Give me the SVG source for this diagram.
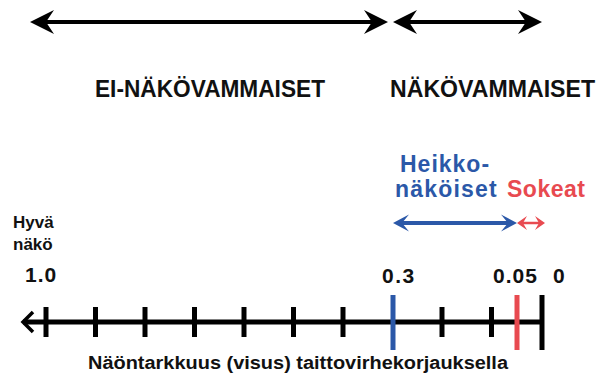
<svg xmlns="http://www.w3.org/2000/svg" width="604" height="379" viewBox="0 0 604 379">
  <style>
    .lbl { font-family: "Liberation Sans", Arial, sans-serif; font-weight: bold; fill: #111; }
    .big { font-size: 23px; }
    .num { font-size: 21px; }
    .small { font-size: 17px; }
    .blue { fill: #2b58a8; }
    .red { fill: #e84a50; }
    .tick { stroke: #000; stroke-width: 5; }
  </style>
  <defs>
    <!-- barbed arrowheads; the shaft ends at the notch (0,0) -->
    <marker id="headBlack" markerUnits="userSpaceOnUse" markerWidth="30" markerHeight="30" viewBox="-10 -14 30 28" refX="0" refY="0" orient="auto-start-reverse">
      <path d="M16,0 L-8,-12 L0,0 L-8,12 Z" fill="#000"/>
    </marker>
    <marker id="headBlue" markerUnits="userSpaceOnUse" markerWidth="22" markerHeight="22" viewBox="-9 -11 22 22" refX="0" refY="0" orient="auto-start-reverse">
      <path d="M9,0 L-7,-8.5 L0,0 L-7,8.5 Z" fill="#2b58a8"/>
    </marker>
    <marker id="headRed" markerUnits="userSpaceOnUse" markerWidth="16" markerHeight="16" viewBox="-7 -8 16 16" refX="0" refY="0" orient="auto-start-reverse">
      <path d="M6,0 L-4,-7 L0,0 L-4,7 Z" fill="#e84a50"/>
    </marker>
  </defs>

  <!-- range arrows -->
  <g id="connectors" fill="none">
    <line x1="46" y1="22" x2="372" y2="22" stroke="#000" stroke-width="4" marker-start="url(#headBlack)" marker-end="url(#headBlack)"/>
    <line x1="409" y1="22" x2="526" y2="22" stroke="#000" stroke-width="4" marker-start="url(#headBlack)" marker-end="url(#headBlack)"/>
    <line x1="402" y1="223" x2="508" y2="223" stroke="#2b58a8" stroke-width="4" marker-start="url(#headBlue)" marker-end="url(#headBlue)"/>
    <line x1="523" y1="223" x2="539" y2="223" stroke="#e84a50" stroke-width="2.5" marker-start="url(#headRed)" marker-end="url(#headRed)"/>
  </g>

  <!-- visual acuity axis -->
  <g id="axis">
    <line x1="23" y1="322" x2="543" y2="322" stroke="#000" stroke-width="5"/>
    <polyline points="33,312 23,322 33,332" fill="none" stroke="#000" stroke-width="3.5"/>
    <line class="tick" x1="46" y1="307" x2="46" y2="337"/>
    <line class="tick" x1="95.5" y1="307" x2="95.5" y2="337"/>
    <line class="tick" x1="145" y1="307" x2="145" y2="337"/>
    <line class="tick" x1="194.5" y1="307" x2="194.5" y2="337"/>
    <line class="tick" x1="244" y1="307" x2="244" y2="337"/>
    <line class="tick" x1="293.5" y1="307" x2="293.5" y2="337"/>
    <line class="tick" x1="343" y1="307" x2="343" y2="337"/>
    <line class="tick" x1="442" y1="307" x2="442" y2="337"/>
    <line class="tick" x1="491.5" y1="307" x2="491.5" y2="337"/>
    <line x1="393" y1="295" x2="393" y2="350" stroke="#2b58a8" stroke-width="5"/>
    <line x1="517" y1="295" x2="517" y2="350" stroke="#e84a50" stroke-width="5"/>
    <line x1="542" y1="295" x2="542" y2="350" stroke="#000" stroke-width="5"/>
  </g>

  <g id="ei-nakovammaiset">
    <text class="lbl big" x="95" y="97" textLength="230" lengthAdjust="spacingAndGlyphs">EI-NÄKÖVAMMAISET</text>
  </g>
  <g id="nakovammaiset">
    <text class="lbl big" x="390" y="97" textLength="205" lengthAdjust="spacingAndGlyphs">NÄKÖVAMMAISET</text>
  </g>
  <g id="heikkonakoiset">
    <text class="lbl big blue" x="400" y="172" letter-spacing="1">Heikko-</text>
    <text class="lbl big blue" x="395" y="197" letter-spacing="1.2">näköiset</text>
  </g>
  <g id="sokeat">
    <text class="lbl big red" x="507" y="197" letter-spacing="0.5">Sokeat</text>
  </g>
  <g id="hyva-nako">
    <text class="lbl small" x="13" y="228">Hyvä</text>
    <text class="lbl small" x="13" y="250">näkö</text>
  </g>
  <g id="values">
    <text class="lbl num" x="25" y="282" letter-spacing="1">1.0</text>
    <text class="lbl num" x="382" y="283" letter-spacing="1.5">0.3</text>
    <text class="lbl num" x="493" y="283" letter-spacing="1">0.05</text>
    <text class="lbl num" x="553" y="283">0</text>
  </g>
  <g id="caption">
    <text class="lbl" x="88" y="369" font-size="18" textLength="420" lengthAdjust="spacingAndGlyphs" fill="#222">Näöntarkkuus (visus) taittovirhekorjauksella</text>
  </g>
</svg>
